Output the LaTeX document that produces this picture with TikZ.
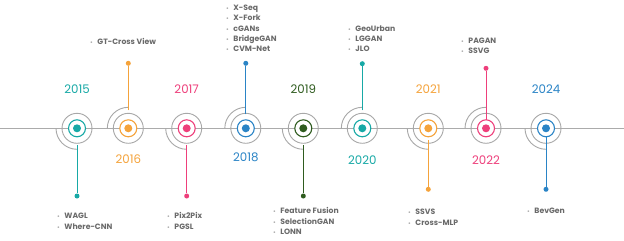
\documentclass[tikz,border=0pt]{standalone}
\usepackage{fontspec}
\setmainfont{Poppins}
\usepackage{array}
\definecolor{lgray}{HTML}{ABABAB}
\definecolor{cgray}{HTML}{A8A8A8}
\definecolor{itemgray}{HTML}{6A6A6A}
\definecolor{cteal}{HTML}{17A9A6}
\definecolor{corange}{HTML}{F5A33B}
\definecolor{cpink}{HTML}{EE3F7B}
\definecolor{cblue}{HTML}{2A84C6}
\definecolor{cgreen}{HTML}{2F5C1F}
\newcommand\yearfont{\fontsize{11.8}{13}\selectfont}
\newcommand\itemfont{\fontsize{7.7}{10.3}\selectfont\bfseries}
\newcommand\bl{{\fontsize{5.5}{5}\selectfont\textcolor{lgray}{•}}}
\newcommand\mstone[7]{%
  % #1 name, #2 x, #3 colour, #4 sign (1 down,-1 up), #5 end y, #6 start r, #7 arc start angle
  \coordinate (p#1) at (#2,128.3);
  \draw[ringgray] (p#1) circle[radius=15pt];
  \draw[ringgray] ([shift={(#7:21pt)}]p#1) arc[start angle=#7, delta angle=90, radius=21pt];
  \draw[draw=#3, line width=1.1pt, fill=white] (p#1) circle[radius=8.5pt];
  \node[dotc=#3] (c#1) at (p#1) {};
  \coordinate (s#1) at (#2,{128.3+#4*#6});
  \node[enddot=#3] (e#1) at (#2,#5) {};
  \draw[draw=#3, line width=1pt] (s#1) -- (e#1);
}
\tikzset{
  ringgray/.style={draw=cgray, line width=0.9pt},
  dotc/.style={circle, fill=#1, inner sep=0pt, minimum size=8pt},
  enddot/.style={circle, fill=#1, inner sep=0pt, minimum size=5pt},
  year/.style={text=#1, font=\yearfont, inner sep=0pt, anchor=center},
  items/.style={anchor=base west, inner sep=0pt, text=itemgray, font=\itemfont},
}
\begin{document}
\begin{tikzpicture}[x=1pt, y=-1pt]
\fill[white] (0,0) rectangle (624,241);
\useasboundingbox (0,0) rectangle (624,241);
\coordinate (L) at (0,128.3);
\coordinate (R) at (624,128.3);
\draw[draw=lgray, line width=1pt] (L) -- (R);

\mstone{2015}{77}{cteal}{1}{196}{17}{180}
\mstone{2016}{128.3}{corange}{-1}{63.3}{18}{90}
\mstone{2017}{186.7}{cpink}{1}{196}{17}{180}
\mstone{2018}{245.8}{cblue}{-1}{63.3}{14}{90}
\mstone{2019}{303.3}{cgreen}{1}{196}{17}{180}
\mstone{2020}{362.3}{cteal}{-1}{63.7}{18}{90}
\mstone{2021}{428.3}{corange}{1}{189.3}{12}{180}
\mstone{2022}{486}{cpink}{-1}{68.3}{8.5}{90}
\mstone{2024}{546}{cblue}{1}{189.3}{8.5}{180}

\node[year=cteal]   (y2015) at (77,89) {2015};
\node[year=corange] (y2016) at (128.3,159.5) {2016};
\node[year=cpink]   (y2017) at (186.7,89) {2017};
\node[year=cblue]   (y2018) at (245.8,157) {2018};
\node[year=cgreen]  (y2019) at (303.3,89) {2019};
\node[year=cteal]   (y2020) at (362.3,160) {2020};
\node[year=corange] (y2021) at (428.3,89) {2021};
\node[year=cpink]   (y2022) at (486,160) {2022};
\node[year=cblue]   (y2024) at (546,89) {2024};

\node[items] (l2015) at (57,218.8) {\begin{tabular}[t]{@{}l@{\hspace{4.5pt}}l@{}}\bl & WAGL\\ \bl & Where-CNN\end{tabular}};
\node[items] (l2016) at (90,44.8) {\begin{tabular}[t]{@{}l@{\hspace{4.5pt}}l@{}}\bl & GT-Cross View\end{tabular}};
\node[items] (l2017) at (167,218.8) {\begin{tabular}[t]{@{}l@{\hspace{4.5pt}}l@{}}\bl & Pix2Pix\\ \bl & PGSL\end{tabular}};
\node[items] (l2018) at (226,10.5) {\begin{tabular}[t]{@{}l@{\hspace{4.5pt}}l@{}}\bl & X-Seq\\ \bl & X-Fork\\ \bl & cGANs\\ \bl & BridgeGAN\\ \bl & CVM-Net\end{tabular}};
\node[items] (l2019) at (273,213.8) {\begin{tabular}[t]{@{}l@{\hspace{4.5pt}}l@{}}\bl & Feature Fusion\\ \bl & SelectionGAN\\ \bl & LONN\end{tabular}};
\node[items] (l2020) at (348,31.1) {\begin{tabular}[t]{@{}l@{\hspace{4.5pt}}l@{}}\bl & GeoUrban\\ \bl & LGGAN\\ \bl & JLO\end{tabular}};
\node[items] (l2021) at (408,214.8) {\begin{tabular}[t]{@{}l@{\hspace{4.5pt}}l@{}}\bl & SSVS\\ \bl & Cross-MLP\end{tabular}};
\node[items] (l2022) at (461,43.1) {\begin{tabular}[t]{@{}l@{\hspace{4.5pt}}l@{}}\bl & PAGAN\\ \bl & SSVG\end{tabular}};
\node[items] (l2024) at (527,213.1) {\begin{tabular}[t]{@{}l@{\hspace{4.5pt}}l@{}}\bl & BevGen\end{tabular}};
\end{tikzpicture}
\end{document}
